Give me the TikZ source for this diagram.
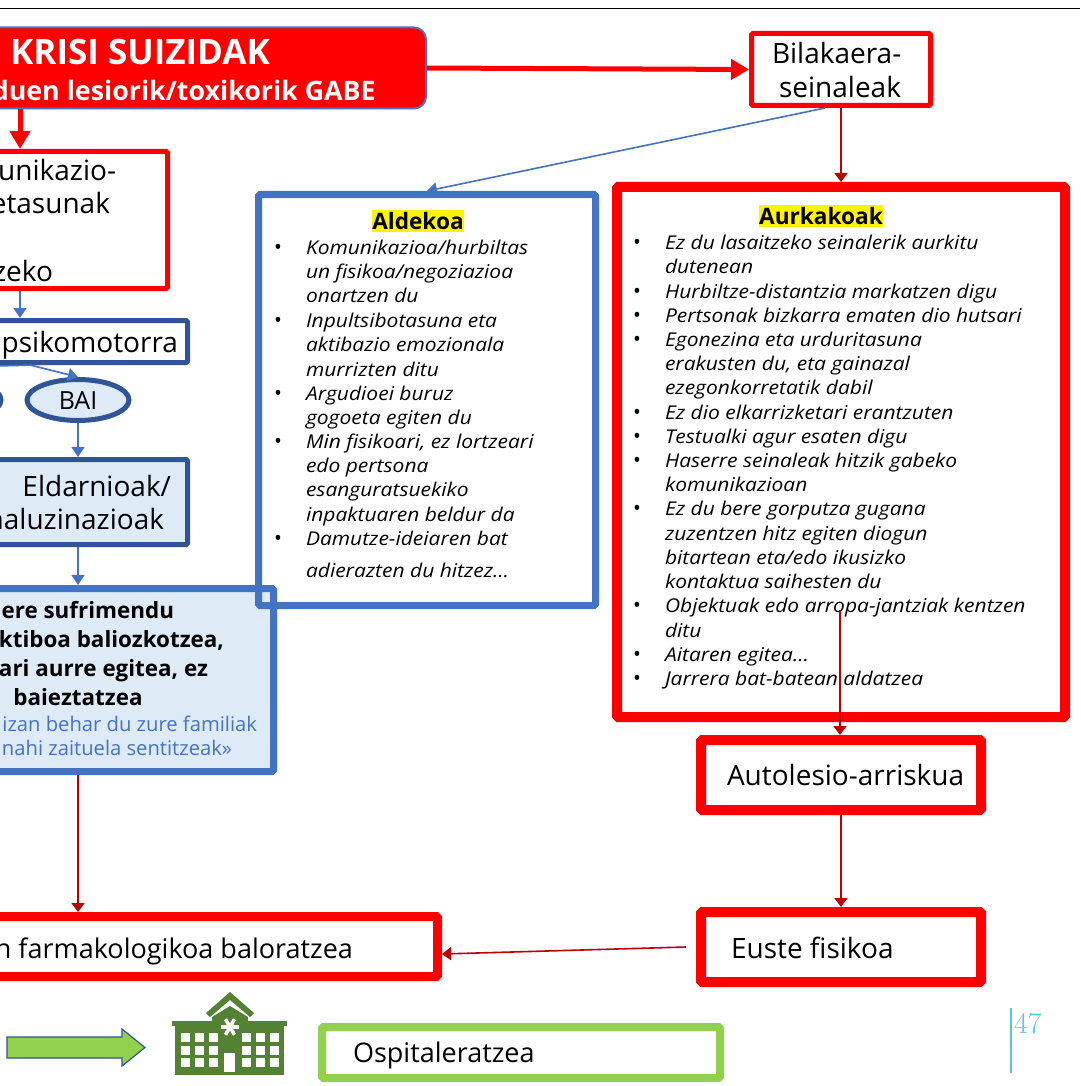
\documentclass[tikz,border=0pt]{standalone}
\usepackage{fontspec}
\setsansfont{Open Sans}
\newfontfamily\listfont[FakeStretch=1.105]{Open Sans}
\usetikzlibrary{arrows.meta,calc,shapes.geometric}
\definecolor{blu}{HTML}{4472C4}
\definecolor{dblu}{HTML}{2F5597}
\definecolor{lblu}{HTML}{DEEBF7}
\definecolor{dred}{HTML}{C00000}
\definecolor{grn}{HTML}{92D050}
\definecolor{dgrn}{HTML}{548235}
\definecolor{cyn}{HTML}{5BC5E8}
\tikzset{
 x=1pt,y=-1pt,
 box/.style={draw,inner sep=0pt,rounded corners=1.5pt},
 redbox/.style={box,draw=red},
 dbox/.style={box,draw=dblu,line width=5pt},
 txt/.style={anchor=base west,inner sep=0pt,outer sep=0pt,font=\sffamily\fontsize{28}{28}\selectfont},
 txtr/.style={txt,anchor=base east},
 txts/.style={font=\sffamily\fontsize{27}{27}\selectfont},
 lst/.style={anchor=base west,inner sep=0pt,outer sep=0pt,yshift=-1pt,font=\listfont\itshape\fontsize{19}{19}\selectfont},
 blt/.style={anchor=base,inner sep=0pt,outer sep=0pt,yshift=-1pt,font=\sffamily\fontsize{21}{21}\selectfont},
 head/.style={anchor=base,inner sep=0pt,outer sep=0pt,font=\sffamily\bfseries\fontsize{22.6}{22.6}\selectfont,fill=yellow,text depth=3pt,text height=19pt},
 bld/.style={anchor=base,inner sep=0pt,outer sep=0pt,font=\sffamily\bfseries\fontsize{22.4}{22.4}\selectfont},
 bldr/.style={bld,anchor=base east},
 blut/.style={anchor=base east,inner sep=0pt,outer sep=0pt,text=blu,font=\sffamily\fontsize{20.2}{20.2}\selectfont},
 thick red/.style={red,line width=5pt,-{Triangle[length=18pt,width=20pt]}},
 bline/.style={blu,line width=1.6pt,-{Triangle[length=10pt,width=13pt]}},
 plainb/.style={blu,line width=1.6pt},
 rline/.style={dred,line width=1.6pt,-{Triangle[length=9pt,width=13pt]}},
 ell/.style={draw=dblu,line width=5pt,fill=lblu,ellipse,inner sep=0pt,minimum width=102pt,minimum height=41pt}
}
\begin{document}
\begin{tikzpicture}
\useasboundingbox (0,0) rectangle (1080,1086);
\clip (0,0) rectangle (1080,1086);
\fill[white] (0,0) rectangle (1080,1086);
\draw[black,line width=1pt] (0,9) -- (1080,9);

% boxes
\node[box,draw=blu,line width=2pt,fill=red,rounded corners=12pt,minimum width=812pt,minimum height=81pt] (title) at (20,68) {};
\node[redbox,line width=5pt,minimum width=179pt,minimum height=72pt] (bil) at (841,69.5) {};
\node[redbox,line width=5pt,minimum width=295pt,minimum height=137pt] (comm) at (20,220) {};
\node[dbox,minimum width=335pt,minimum height=42pt] (psiko) at (20,341.5) {};
\node[ell] (bai) at (78,400) {};
\node[ell] (ez) at (-50,400) {};
\node[dbox,fill=lblu,minimum width=219pt,minimum height=85pt] (eld) at (78,502) {};
\node[box,draw=blu,fill=lblu,line width=7pt,minimum width=391pt,minimum height=183pt] (big) at (78,680) {};
\node[box,draw=blu,line width=7pt,minimum width=337pt,minimum height=411pt] (al) at (427,400) {};
\node[redbox,line width=10pt,minimum width=448pt,minimum height=530pt] (aur) at (841,452) {};
\node[redbox,line width=10pt,minimum width=280pt,minimum height=70pt] (auto) at (841,775) {};
\node[redbox,line width=10pt,minimum width=280pt,minimum height=70pt] (euste) at (841,947) {};
\node[redbox,line width=9pt,minimum width=719pt,minimum height=60pt] (farma) at (78,946.5) {};
\node[box,draw=grn,line width=8pt,minimum width=398pt,minimum height=51pt] (ospit) at (521,1052.5) {};

% title texts
\node[anchor=base west,inner sep=0pt,text=white,font=\sffamily\bfseries\fontsize{35}{35}\selectfont] (t1) at (10,65) {KRISI SUIZIDAK};
\node[anchor=base east,inner sep=0pt,text=white,font=\sffamily\bfseries\fontsize{26.8}{26.8}\selectfont] (t2) at (376,101) {duen lesiorik/toxikorik GABE};

\node[txt] (b1) at (772,64) {Bilakaera-};
\node[txt] (b2) at (779,98) {seinaleak};
\node[txtr] (c1) at (116,181) {unikazio-};
\node[txtr] (c2) at (110,213) {etasunak};
\node[txtr] (c3) at (53,281) {zeko};
\node[txtr] (p1) at (178,352) {psikomotorra};
\node[anchor=base,inner sep=0pt,font=\sffamily\fontsize{25}{25}\selectfont] (b0) at (78,409) {BAI};
\node[txtr] (e1) at (171,496) {Eldarnioak/};
\node[txtr] (e2) at (164,529) {haluzinazioak};
\node[txt] (a1) at (727,785) {Autolesio-arriskua};
\node[txt] (a2) at (731,958) {Euste fisikoa};
\node[txtr,txts] (f1) at (353,958) {n farmakologikoa baloratzea};
\node[txt,txts] (o1) at (353,1062) {Ospitaleratzea};

% big box texts
\node[bldr] (g1) at (174,618) {ere sufrimendu};
\node[bldr] (g2) at (224,647) {ktiboa baliozkotzea,};
\node[bldr] (g3) at (208,676) {ari aurre egitea, ez};
\node[bld] (g4) at (78,705) {baieztatzea};
\node[blut] (g5) at (257,731) {izan behar du zure familiak};
\node[blut] (g6) at (232,755) {nahi zaituela sentitzeak»};

% Aldekoa
\node[head] (h1) at (418,229) {Aldekoa};
\foreach \n/\y/\t in {1/253/{Komunikazioa/hurbiltas},2/277/{un fisikoa/negoziazioa},3/301/{onartzen du},4/326/{Inpultsibotasuna eta},5/350/{aktibazio emozionala},6/375/{murrizten ditu},7/399/{Argudioei buruz},8/423/{gogoeta egiten du},9/447/{Min fisikoari, ez lortzeari},10/471/{edo pertsona},11/495/{esanguratsuekiko},12/520/{inpaktuaren beldur da},13/544/{Damutze-ideiaren bat},14/576/{adierazten du hitzez…}}
 \node[lst] (l\n) at (306,\y) {\t};
\foreach \n/\y in {1/253,2/326,3/399,4/447,5/544}
 \node[blt] (lb\n) at (278,\y) {•};

% Aurkakoak
\node[head] (h2) at (821,224) {Aurkakoak};
\foreach \n/\y/\t in {1/248/{Ez du lasaitzeko seinalerik aurkitu},2/272/{dutenean},3/297/{Hurbiltze-distantzia markatzen digu},4/321/{Pertsonak bizkarra ematen dio hutsari},5/345/{Egonezina eta urduritasuna},6/369/{erakusten du, eta gainazal},7/393/{ezegonkorretatik dabil},8/418/{Ez dio elkarrizketari erantzuten},9/442/{Testualki agur esaten digu},10/466/{Haserre seinaleak hitzik gabeko},11/490/{komunikazioan},12/514/{Ez du bere gorputza gugana},13/539/{zuzentzen hitz egiten diogun},14/563/{bitartean eta/edo ikusizko},15/587/{kontaktua saihesten du},16/611/{Objektuak edo arropa-jantziak kentzen},17/636/{ditu},18/660/{Aitaren egitea…},19/684/{Jarrera bat-batean aldatzea}}
 \node[lst] (r\n) at (665,\y) {\t};
\foreach \n/\y in {1/248,2/297,3/321,4/345,5/418,6/442,7/466,8/514,9/611,10/660,11/684}
 \node[blt] (rb\n) at (637,\y) {•};

% connectors
\draw[thick red] (title.east) -- (bil.west);
\draw[thick red] (title.south) -- (comm.north);
\draw[bline] (comm.south) -- (psiko.north);
\draw[bline] ($(psiko.south)+(10,0)$) -- (bai.north);
\draw[plainb] ($(psiko.south)+(10,0)$) to[out=183,in=25] (ez.north);
\draw[bline] (bai.south) -- (eld.north);
\draw[bline] (eld.south) -- (big.north);
\draw[rline] (big.south) -- (farma.north);
\draw[bline] ($(bil.south)+(-16,0)$) -- (al.north);
\draw[rline] (bil.south) -- (aur.north);
\coordinate (aurin) at ($(auto.north)+(-1,-125)$);
\draw[rline] (aurin) -- ($(auto.north)+(-1,0)$);
\draw[rline] (auto.south) -- (euste.north);
\coordinate (eustout) at ($(euste.west)+(-10,0)$);
\draw[rline] (eustout) -- ($(farma.east)+(0,7.5)$);

% green arrow
\draw[dblu,line width=1.2pt,fill=grn] (7,1037) -- (122,1037) -- (122,1029) -- (145,1047.5) -- (122,1066) -- (122,1058) -- (7,1058) -- cycle;

% hospital
\fill[dgrn] (175,1024) rectangle (284,1075);
\fill[dgrn] (172,1021) rectangle (287,1026);
\fill[dgrn] (212,1026) -- (212,1017) -- (230,1006) -- (248,1017) -- (248,1026) -- cycle;
\fill[dgrn] (206,1013) -- (230,992) -- (254,1013) -- (250,1017) -- (230,1000) -- (210,1017) -- cycle;
\foreach \yy in {1033,1046,1058}{
 \foreach \xx in {181,195,209,242,256,270}{
  \fill[white] (\xx,\yy) rectangle +(8.5,8.5);
 }
}
\fill[white] (224,1053) rectangle (235,1072);
\foreach \a in {0,60,120}{
 \draw[white,line width=3.5pt] (230,1027) ++(\a:9) -- ++(\a+180:18);
}

% page number
\draw[cyn,line width=2pt] (1011,1008) -- (1011,1073);
\node[anchor=base west,inner sep=0pt,text=cyn,font=\rmfamily\fontsize{30}{30}\selectfont] (pg) at (1014,1033) {47};
\end{tikzpicture}
\end{document}
